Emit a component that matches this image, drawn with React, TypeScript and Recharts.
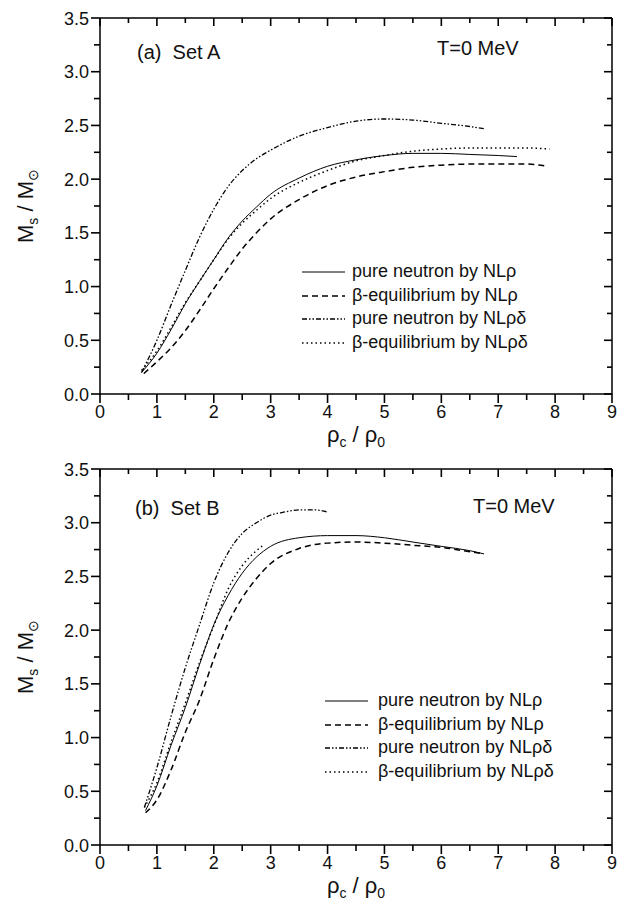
import React from "react";
import { LineChart, Line, XAxis, YAxis } from "recharts";

// central density rho_c/rho_0 vs maximum mass M_s/M_sun
const aPureRho: [number, number][] = [
  [0.73, 0.2], [1.0, 0.38], [1.25, 0.6], [1.5, 0.84], [1.75, 1.05], [2.0, 1.25], [2.25, 1.45],
  [2.5, 1.61], [2.75, 1.74], [3.0, 1.86], [3.5, 2.01], [4.0, 2.12], [4.5, 2.18], [5.0, 2.22],
  [5.5, 2.24], [6.0, 2.24], [6.5, 2.23], [7.0, 2.22], [7.33, 2.21],
];
const aBetaRho: [number, number][] = [
  [0.77, 0.19], [1.0, 0.3], [1.25, 0.43], [1.5, 0.59], [1.75, 0.78], [2.0, 0.98], [2.25, 1.17],
  [2.5, 1.35], [2.75, 1.5], [3.0, 1.63], [3.5, 1.81], [4.0, 1.94], [4.5, 2.02], [5.0, 2.07],
  [5.5, 2.11], [6.0, 2.13], [6.5, 2.14], [7.0, 2.14], [7.5, 2.14], [7.87, 2.12],
];
const aPureRhoDelta: [number, number][] = [
  [0.73, 0.2], [1.0, 0.5], [1.25, 0.83], [1.5, 1.15], [1.75, 1.46], [2.0, 1.72], [2.25, 1.93],
  [2.5, 2.08], [2.75, 2.19], [3.0, 2.27], [3.5, 2.4], [4.0, 2.48], [4.5, 2.54], [5.0, 2.56],
  [5.5, 2.55], [6.0, 2.52], [6.5, 2.49], [6.75, 2.47],
];
const aBetaRhoDelta: [number, number][] = [
  [0.73, 0.22], [1.0, 0.4], [1.25, 0.62], [1.5, 0.85], [1.75, 1.05], [2.0, 1.25], [2.25, 1.44],
  [2.5, 1.59], [2.75, 1.71], [3.0, 1.82], [3.5, 1.97], [4.0, 2.08], [4.5, 2.17], [5.0, 2.22],
  [5.5, 2.26], [6.0, 2.28], [6.5, 2.29], [7.0, 2.29], [7.5, 2.29], [7.9, 2.28],
];

const bPureRho: [number, number][] = [
  [0.8, 0.32], [1.0, 0.55], [1.25, 0.93], [1.5, 1.28], [1.75, 1.68], [2.0, 2.05], [2.25, 2.32],
  [2.5, 2.53], [2.75, 2.68], [3.0, 2.78], [3.5, 2.86], [4.0, 2.88], [4.5, 2.88], [5.0, 2.86],
  [5.5, 2.82], [6.0, 2.78], [6.5, 2.74], [6.75, 2.71],
];
const bBetaRho: [number, number][] = [
  [0.8, 0.3], [1.0, 0.42], [1.25, 0.7], [1.5, 1.05], [1.75, 1.35], [2.0, 1.73], [2.25, 2.06],
  [2.5, 2.3], [2.75, 2.48], [3.0, 2.62], [3.5, 2.76], [4.0, 2.81], [4.5, 2.82], [5.0, 2.81],
  [5.5, 2.79], [6.0, 2.77], [6.5, 2.73], [6.75, 2.71],
];
const bPureRhoDelta: [number, number][] = [
  [0.78, 0.35], [1.0, 0.72], [1.25, 1.2], [1.5, 1.65], [1.75, 2.05], [2.0, 2.44], [2.25, 2.72],
  [2.5, 2.9], [2.75, 3.0], [3.0, 3.07], [3.25, 3.1], [3.5, 3.12], [3.75, 3.12], [4.0, 3.1],
];
const bBetaRhoDelta: [number, number][] = [
  [0.78, 0.35], [1.0, 0.58], [1.25, 0.96], [1.5, 1.32], [1.75, 1.7], [2.0, 2.04], [2.25, 2.38],
  [2.5, 2.6], [2.75, 2.74], [2.87, 2.79],
];

const xTicks = [0, 0.5, 1, 1.5, 2, 2.5, 3, 3.5, 4, 4.5, 5, 5.5, 6, 6.5, 7, 7.5, 8, 8.5, 9];
const yTicks = [0, 0.25, 0.5, 0.75, 1, 1.25, 1.5, 1.75, 2, 2.25, 2.5, 2.75, 3, 3.25, 3.5];
const seriesNames = [
  "pure neutron by NL\u03c1",
  "\u03b2-equilibrium by NL\u03c1",
  "pure neutron by NL\u03c1\u03b4",
  "\u03b2-equilibrium by NL\u03c1\u03b4",
];

const styles = [
  { dash: undefined, width: 1 },
  { dash: "6 4", width: 1.5 },
  { dash: "5 2 1.5 2 1.5 2", width: 1.3 },
  { dash: "1.5 3", width: 1.5 },
];

const FONT = "'Liberation Sans', Arial, sans-serif";
const W = 630;
const H = 450;
// plot box: x 100..612, y 18..394 (axes take 1px each)
const M = { top: 17, right: 17, bottom: 55, left: 99 };
const PLOT_W = W - M.left - M.right - 2;
const PLOT_H = H - M.top - M.bottom - 2;

// bottom/left ticks go outward; the mirrored top/right ones go inward
function Tick(props: any) {
  const { payload, side } = props;
  const x = Number(props.x);
  const y = Number(props.y);
  const v: number = payload.value;
  const isX = side === "bottom";
  const major = isX ? Number.isInteger(v) : Math.abs(v * 2 - Math.round(v * 2)) < 1e-6;
  const len = major ? 9 : 6;
  const tk = { stroke: "#000", strokeWidth: 1.6, fill: "none" };
  if (isX) {
    const yt = y - PLOT_H;
    return (
      <g>
        <path d={`M${x},${y}V${y + len}`} {...tk} />
        <path d={`M${x},${yt}V${yt + len - 1}`} {...tk} />
        {major && (
          <text x={x} y={y + 24} textAnchor="middle" fontSize={18} fontFamily={FONT} fill="#111">
            {v}
          </text>
        )}
      </g>
    );
  }
  const xr = x + PLOT_W;
  return (
    <g>
      <path d={`M${x - len},${y}H${x}`} {...tk} />
      <path d={`M${xr - len + 1},${y}H${xr}`} {...tk} />
      {major && (
        <text x={x - 11} y={y + 6.5} textAnchor="end" fontSize={18} fontFamily={FONT} fill="#111">
          {v.toFixed(1)}
        </text>
      )}
    </g>
  );
}

const toRows = (pts: [number, number][]) => pts.map(([x, m]) => ({ x, m }));

type Panel = {
  top: number;
  tag: string;
  series: [number, number][][];
  tagPos: [number, number];
  tempPos: [number, number];
  legend: { sampleX: number; textX: number; rowY: number };
};

const panels: Panel[] = [
  {
    top: 0,
    tag: "(a)\u00a0\u00a0Set A",
    series: [aPureRho, aBetaRho, aPureRhoDelta, aBetaRhoDelta],
    tagPos: [137, 53],
    tempPos: [437, 49],
    legend: { sampleX: 302, textX: 352, rowY: 272 },
  },
  {
    top: 451,
    tag: "(b)\u00a0\u00a0Set B",
    series: [bPureRho, bBetaRho, bPureRhoDelta, bBetaRhoDelta],
    tagPos: [135, 58],
    tempPos: [473, 56],
    legend: { sampleX: 325, textX: 378, rowY: 250 },
  },
];

function PanelChart({ p }: { p: Panel }) {
  const axisLine = { stroke: "#000", strokeWidth: 1.5 };
  return (
    <div style={{ position: "absolute", left: 0, top: p.top, width: W, height: H, fontFamily: FONT }}>
      <LineChart width={W} height={H} margin={M}>
        <XAxis
          xAxisId="b"
          type="number"
          dataKey="x"
          domain={[0, 9]}
          ticks={xTicks}
          interval={0}
          height={1}
          tickSize={0}
          tickMargin={0}
          tickLine={false}
          axisLine={axisLine}
          tick={<Tick side="bottom" />}
          allowDataOverflow
        />
        <XAxis
          xAxisId="t"
          orientation="top"
          type="number"
          domain={[0, 9]}
          height={1}
          tickLine={false}
          tick={false}
          axisLine={axisLine}
        />
        <YAxis
          yAxisId="l"
          type="number"
          domain={[0, 3.5]}
          ticks={yTicks}
          interval={0}
          width={1}
          tickSize={0}
          tickMargin={0}
          tickLine={false}
          axisLine={axisLine}
          tick={<Tick side="left" />}
          allowDataOverflow
        />
        <YAxis
          yAxisId="r"
          orientation="right"
          type="number"
          domain={[0, 3.5]}
          width={1}
          tickLine={false}
          tick={false}
          axisLine={axisLine}
        />
        {p.series.map((s, i) => (
          <Line
            key={i}
            xAxisId="b"
            yAxisId="l"
            data={toRows(s)}
            dataKey="m"
            type="monotone"
            dot={false}
            stroke="#000"
            strokeWidth={styles[i].width}
            strokeDasharray={styles[i].dash}
            isAnimationActive={false}
          />
        ))}
      </LineChart>

      <div style={{ position: "absolute", left: p.tagPos[0], top: p.tagPos[1] - 12, fontSize: 20, color: "#111", whiteSpace: "nowrap" }}>
        {p.tag}
      </div>
      <div style={{ position: "absolute", left: p.tempPos[0], top: p.tempPos[1] - 12, fontSize: 20, color: "#111", whiteSpace: "nowrap" }}>
        T=0 MeV
      </div>

      {seriesNames.map((name, i) => {
        const cy = p.legend.rowY + i * 23.5;
        return (
          <div key={name}>
            <svg style={{ position: "absolute", left: p.legend.sampleX, top: cy - 3 }} width={44} height={6}>
              <path d="M0,3H43" stroke="#000" fill="none" strokeWidth={styles[i].width} strokeDasharray={styles[i].dash} />
            </svg>
            <div style={{ position: "absolute", left: p.legend.textX, top: cy - 11, fontSize: 18, color: "#111", whiteSpace: "nowrap" }}>
              {name}
            </div>
          </div>
        );
      })}

      <div
        style={{
          position: "absolute",
          left: 27,
          top: 206,
          transform: "translate(-50%, -50%) rotate(-90deg)",
          fontSize: 22,
          color: "#111",
          whiteSpace: "nowrap",
        }}
      >
        M<sub style={{ fontSize: 14 }}>s</sub> / M<sub style={{ fontSize: 14 }}>{"\u2299"}</sub>
      </div>
      <div
        style={{
          position: "absolute",
          left: 356,
          top: 436,
          transform: "translate(-50%, -50%)",
          fontSize: 22,
          color: "#111",
          whiteSpace: "nowrap",
        }}
      >
        {"\u03c1"}<sub style={{ fontSize: 14 }}>c</sub> / {"\u03c1"}<sub style={{ fontSize: 14 }}>0</sub>
      </div>
    </div>
  );
}

export default function App() {
  return (
    <div style={{ position: "absolute", left: 0, top: 0, width: W, height: 907, background: "#fff" }}>
      {panels.map((p) => (
        <PanelChart key={p.tag} p={p} />
      ))}
    </div>
  );
}
